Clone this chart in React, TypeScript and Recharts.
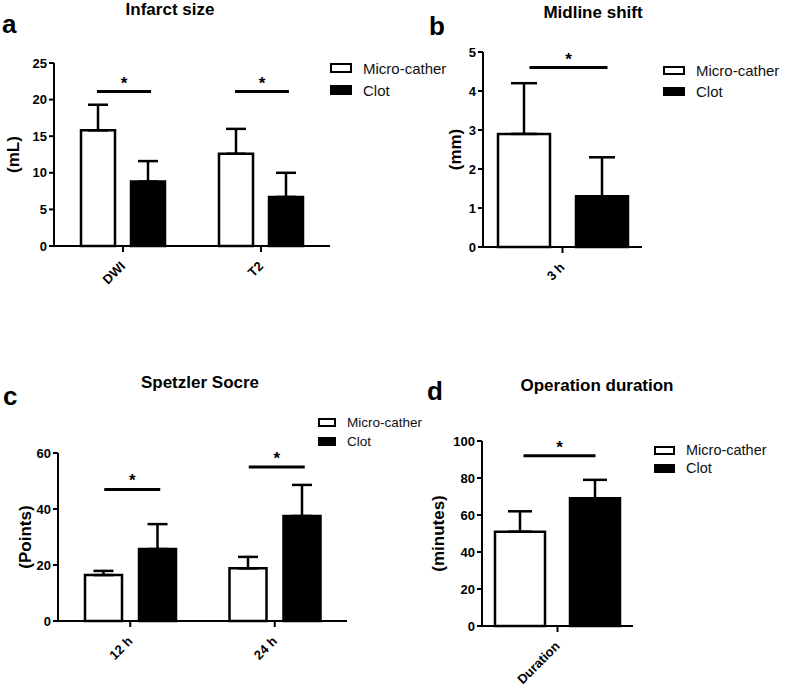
import React from "react";
import {
  BarChart,
  Bar,
  XAxis,
  YAxis,
  ErrorBar,
  ReferenceDot,
  Legend,
} from "recharts";

const FONT = '"Liberation Sans", Arial, Helvetica, sans-serif';

// a - Infarct size
const infarctCats = ["DWI", "T2"];
const infarctMicro = [15.8, 12.6];
const infarctClot = [8.8, 6.7];
const infarctMicroSd = [3.5, 3.4];
const infarctClotSd = [2.8, 3.3];
const infarctSig = [21.1, 21.1];
const infarctTicks = [0, 5, 10, 15, 20, 25];

// b - Midline shift
const shiftCats = ["3 h"];
const shiftMicro = [2.9];
const shiftClot = [1.3];
const shiftMicroSd = [1.3];
const shiftClotSd = [1.0];
const shiftSig = [4.6];
const shiftTicks = [0, 1, 2, 3, 4, 5];

// c - Spetzler score
const scoreCats = ["12 h", "24 h"];
const scoreMicro = [16.4, 18.8];
const scoreClot = [25.7, 37.5];
const scoreMicroSd = [1.5, 4.1];
const scoreClotSd = [8.9, 11.1];
const scoreSig = [47, 55];
const scoreTicks = [0, 20, 40, 60];

// d - Operation duration
const durationCats = ["Duration"];
const durationMicro = [51];
const durationClot = [69];
const durationMicroSd = [11];
const durationClotSd = [10];
const durationSig = [92];
const durationTicks = [0, 20, 40, 60, 80, 100];

const seriesOrder = ["micro", "clot"];

function XTick(props: any) {
  const { x, y, payload } = props;
  return (
    <g transform={`translate(${x},${y})`}>
      <text
        x={3}
        y={15}
        textAnchor="end"
        transform="rotate(-45 3 15)"
        fontFamily={FONT}
        fontWeight="bold"
        fontSize={13}
        fill="#000"
      >
        {payload.value}
      </text>
    </g>
  );
}

function makeLegend(lg: any) {
  return (props: any) => {
    const payload = [...(props.payload || [])].sort(
      (a: any, b: any) =>
        seriesOrder.indexOf(a.dataKey) - seriesOrder.indexOf(b.dataKey)
    );
    return (
      <div style={{ fontFamily: FONT }}>
        {payload.map((e: any) => (
          <div
            key={e.value}
            style={{ display: "flex", alignItems: "center", height: lg.step }}
          >
            <span
              style={{
                display: "inline-block",
                width: lg.boxW,
                height: lg.boxH,
                boxSizing: "border-box",
                border: "2.5px solid #000",
                background: e.color,
              }}
            />
            <span
              style={{
                marginLeft: 11,
                fontSize: lg.fontSize,
                color: "#111",
                lineHeight: 1,
              }}
            >
              {e.value}
            </span>
          </div>
        ))}
      </div>
    );
  };
}

function Panel(p: any) {
  const { box, plot } = p;
  const data = p.cats.map((c: string, i: number) => ({
    name: c,
    micro: p.micro[i],
    clot: p.clot[i],
    microSd: [0, p.microSd[i]],
    clotSd: [0, p.clotSd[i]],
    sig: p.sig[i],
  }));
  const AXW = 50;
  const AXH = 60;
  const margin = {
    left: plot.x1 - box.x - AXW,
    top: plot.y1 - box.y,
    right: box.x + box.w - plot.x2,
    bottom: box.y + box.h - plot.y2 - AXH,
  };
  const midY = plot.y1 - box.y + (plot.y2 - plot.y1) / 2;
  const labelX = p.yLabelX - box.x;
  const lg = p.legend;
  const axisStyle = { stroke: "#000", strokeWidth: 2 };

  return (
    <div style={{ position: "absolute", left: box.x, top: box.y }}>
      <BarChart
        width={box.w}
        height={box.h}
        data={data}
        margin={margin}
        barSize={p.barSize}
        barGap={p.barGap}
      >
        <XAxis
          dataKey="name"
          height={AXH}
          interval={0}
          axisLine={axisStyle}
          tickLine={axisStyle}
          tickSize={6}
          tickMargin={0}
          tick={<XTick />}
        />
        <YAxis
          width={AXW}
          type="number"
          domain={[p.ticks[0], p.ticks[p.ticks.length - 1]]}
          ticks={p.ticks}
          interval={0}
          axisLine={axisStyle}
          tickLine={axisStyle}
          tickSize={5}
          tickMargin={2}
          tick={{
            fill: "#000",
            fontSize: 13,
            fontWeight: "bold",
            fontFamily: FONT,
          }}
          label={() => (
            <text
              x={labelX}
              y={midY}
              transform={`rotate(-90 ${labelX} ${midY})`}
              textAnchor="middle"
              dominantBaseline="central"
              fontFamily={FONT}
              fontWeight="bold"
              fontSize={17}
              fill="#000"
            >
              {p.yLabel}
            </text>
          )}
        />
        <Legend
          layout="vertical"
          align="center"
          verticalAlign="middle"
          wrapperStyle={{
            left: lg.x - box.x,
            top: lg.y - (lg.step - lg.boxH) / 2 - box.y,
            width: 160,
          }}
          content={makeLegend(lg)}
        />
        <Bar
          dataKey="micro"
          name="Micro-cather"
          fill="#fff"
          stroke="#000"
          strokeWidth={2.5}
          isAnimationActive={false}
        >
          <ErrorBar
            dataKey="microSd"
            direction="y"
            width={p.cap}
            stroke="#000"
            strokeWidth={2.5}
            isAnimationActive={false}
          />
        </Bar>
        <Bar
          dataKey="clot"
          name="Clot"
          fill="#000"
          stroke="#000"
          strokeWidth={2.5}
          isAnimationActive={false}
        >
          <ErrorBar
            dataKey="clotSd"
            direction="y"
            width={p.cap}
            stroke="#000"
            strokeWidth={2.5}
            isAnimationActive={false}
          />
        </Bar>
        {data.map((d: any) => (
          <ReferenceDot
            key={d.name}
            x={d.name}
            y={d.sig}
            ifOverflow="visible"
            shape={(s: any) => {
              const cx = s.cx + p.sigShift;
              return (
                <g>
                  <line
                    x1={cx - p.sigHalf}
                    x2={cx + p.sigHalf}
                    y1={s.cy}
                    y2={s.cy}
                    stroke="#000"
                    strokeWidth={3}
                  />
                  <text
                    x={cx}
                    y={s.cy - 3}
                    textAnchor="middle"
                    fontFamily={FONT}
                    fontWeight="bold"
                    fontSize={17}
                    fill="#000"
                  >
                    *
                  </text>
                </g>
              );
            }}
          />
        ))}
      </BarChart>
    </div>
  );
}

const titles = [
  { text: "Infarct size", x: 170, y: 15 },
  { text: "Midline shift", x: 593, y: 18 },
  { text: "Spetzler Socre", x: 200, y: 388 },
  { text: "Operation duration", x: 597, y: 391 },
];
const letters = [
  { text: "a", x: 2, y: 33 },
  { text: "b", x: 429, y: 35 },
  { text: "c", x: 3, y: 405 },
  { text: "d", x: 427, y: 400 },
];

export default function App() {
  return (
    <div
      style={{
        position: "absolute",
        left: 0,
        top: 0,
        width: 787,
        height: 687,
        background: "#fff",
        overflow: "hidden",
      }}
    >
      <Panel
        box={{ x: 0, y: 0, w: 460, h: 340 }}
        plot={{ x1: 54, x2: 330, y1: 63, y2: 246 }}
        cats={infarctCats}
        micro={infarctMicro}
        clot={infarctClot}
        microSd={infarctMicroSd}
        clotSd={infarctClotSd}
        sig={infarctSig}
        ticks={infarctTicks}
        yLabel="(mL)"
        yLabelX={13}
        barSize={34}
        barGap={16}
        cap={10}
        sigHalf={27}
        sigShift={1}
        legend={{ x: 330, y: 63, boxW: 22, boxH: 10, step: 22, fontSize: 15 }}
      />
      <Panel
        box={{ x: 400, y: 0, w: 387, h: 340 }}
        plot={{ x1: 483, x2: 642, y1: 52, y2: 247 }}
        cats={shiftCats}
        micro={shiftMicro}
        clot={shiftClot}
        microSd={shiftMicroSd}
        clotSd={shiftClotSd}
        sig={shiftSig}
        ticks={shiftTicks}
        yLabel="(mm)"
        yLabelX={455}
        barSize={52}
        barGap={26}
        cap={13}
        sigHalf={39}
        sigShift={6}
        legend={{ x: 663, y: 66, boxW: 22, boxH: 9, step: 21, fontSize: 15 }}
      />
      <Panel
        box={{ x: 0, y: 340, w: 440, h: 347 }}
        plot={{ x1: 58, x2: 347, y1: 453, y2: 621 }}
        cats={scoreCats}
        micro={scoreMicro}
        clot={scoreClot}
        microSd={scoreMicroSd}
        clotSd={scoreClotSd}
        sig={scoreSig}
        ticks={scoreTicks}
        yLabel="(Points)"
        yLabelX={25}
        barSize={37}
        barGap={17}
        cap={10}
        sigHalf={28}
        sigShift={2}
        legend={{ x: 318, y: 418, boxW: 18, boxH: 9, step: 19, fontSize: 13.5 }}
      />
      <Panel
        box={{ x: 400, y: 340, w: 387, h: 347 }}
        plot={{ x1: 482, x2: 633, y1: 441, y2: 626 }}
        cats={durationCats}
        micro={durationMicro}
        clot={durationClot}
        microSd={durationMicroSd}
        clotSd={durationClotSd}
        sig={durationSig}
        ticks={durationTicks}
        yLabel="(minutes)"
        yLabelX={438}
        barSize={50}
        barGap={25}
        cap={12}
        sigHalf={36}
        sigShift={2}
        legend={{ x: 654, y: 446, boxW: 21, boxH: 9, step: 18, fontSize: 14.5 }}
      />
      <svg
        width={787}
        height={687}
        style={{ position: "absolute", left: 0, top: 0, pointerEvents: "none" }}
      >
        {titles.map((t) => (
          <text
            key={t.text}
            x={t.x}
            y={t.y}
            textAnchor="middle"
            fontFamily={FONT}
            fontWeight="bold"
            fontSize={17}
            fill="#000"
          >
            {t.text}
          </text>
        ))}
        {letters.map((t) => (
          <text
            key={t.text}
            x={t.x}
            y={t.y}
            fontFamily={FONT}
            fontWeight="bold"
            fontSize={26}
            fill="#000"
          >
            {t.text}
          </text>
        ))}
      </svg>
    </div>
  );
}
